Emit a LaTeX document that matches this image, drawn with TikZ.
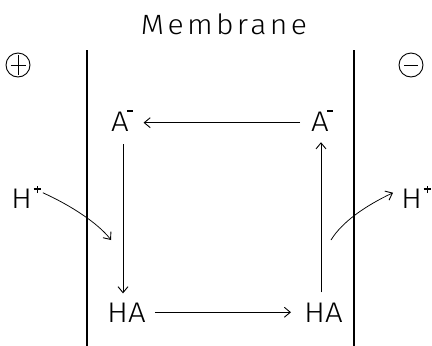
\documentclass[tikz,border=0pt]{standalone}
\usepackage{fontspec}
\setmainfont{Fira Sans Light}[FakeStretch=1.1]
\newfontfamily\titlefont{Fira Sans Light}[LetterSpace=12,FakeStretch=1.08]
\usetikzlibrary{arrows.meta,calc}
\newcommand{\supm}{\hspace{-2bp}\raisebox{19.5bp}{\rule{6.5bp}{1.1bp}}}
\newcommand{\supp}{\hspace{1.5bp}\raisebox{18.5bp}{\rule{7bp}{1.1bp}}\hspace{-4.05bp}\raisebox{15bp}{\rule{1.1bp}{7.5bp}}\hspace{2.95bp}}
\begin{document}
\begin{tikzpicture}[x=1bp,y=-1bp,
  lbl/.style={inner sep=0pt,font=\fontsize{28.5}{31}\selectfont},
  arr/.style={line width=0.75bp,-{Straight Barb[length=6bp,width=10bp,line width=0.9bp]}},
  memb/.style={line width=1.6bp},
  sign/.style={circle,draw,line width=0.9bp,minimum size=24bp,inner sep=0pt}]
\useasboundingbox (0,0) rectangle (432,346);
\node[inner sep=0pt,font=\titlefont\fontsize{28}{31}\selectfont] (title) at (224,24) {Membrane};
% signs
\node[sign] (plus) at (18,65) {};
\draw[line width=0.9bp] ($(plus.center)+(0,-10)$) -- ($(plus.center)+(0,10)$);
\draw[line width=0.9bp] ($(plus.center)+(-7.5,0)$) -- ($(plus.center)+(7.5,0)$);
\node[sign] (minus) at (411,65) {};
\draw[line width=0.9bp] ($(minus.center)+(-7,0)$) -- ($(minus.center)+(7,0)$);
% membrane walls
\coordinate (mlt) at (87,50); \coordinate (mlb) at (87,346);
\coordinate (mrt) at (354,50); \coordinate (mrb) at (354,346);
\draw[memb] (mlt) -- (mlb);
\draw[memb] (mrt) -- (mrb);
% species
\node[lbl,anchor=base west] (A1) at (111,131) {A\supm};
\node[lbl,anchor=base west] (A2) at (311,131) {A\supm};
\node[lbl,anchor=base west] (HA1) at (107,322) {HA};
\node[lbl,anchor=base west] (HA2) at (304,322) {HA};
\node[lbl,anchor=base west] (H1) at (11,208) {H\supp};
\node[lbl,anchor=base west] (H2) at (401,208) {H\supp};
\coordinate (in1) at (111,240);
\coordinate (out2) at (331,240);
% cycle arrows
\draw[arr] ($(A2.west)+(-11,2)$) -- ($(A1.east)+(10,2)$);
\draw[arr] ($(A1.south west)+(12,13)$) -- ($(HA1.north west)+(16,-9)$);
\draw[arr] ($(HA1.east)+(9,0)$) -- ($(HA2.west)+(-13,0)$);
\draw[arr] ($(HA2.north west)+(17,-10)$) -- ($(A2.south west)+(10,11)$);
% proton transfer
\draw[arr] ($(H1.east)+(5,-4)$) .. controls (70,205) and (98,223) .. (in1);
\draw[arr] (out2) .. controls (342,222) and (365,206) .. ($(H2.west)+(-8,-4)$);
\end{tikzpicture}
\end{document}
